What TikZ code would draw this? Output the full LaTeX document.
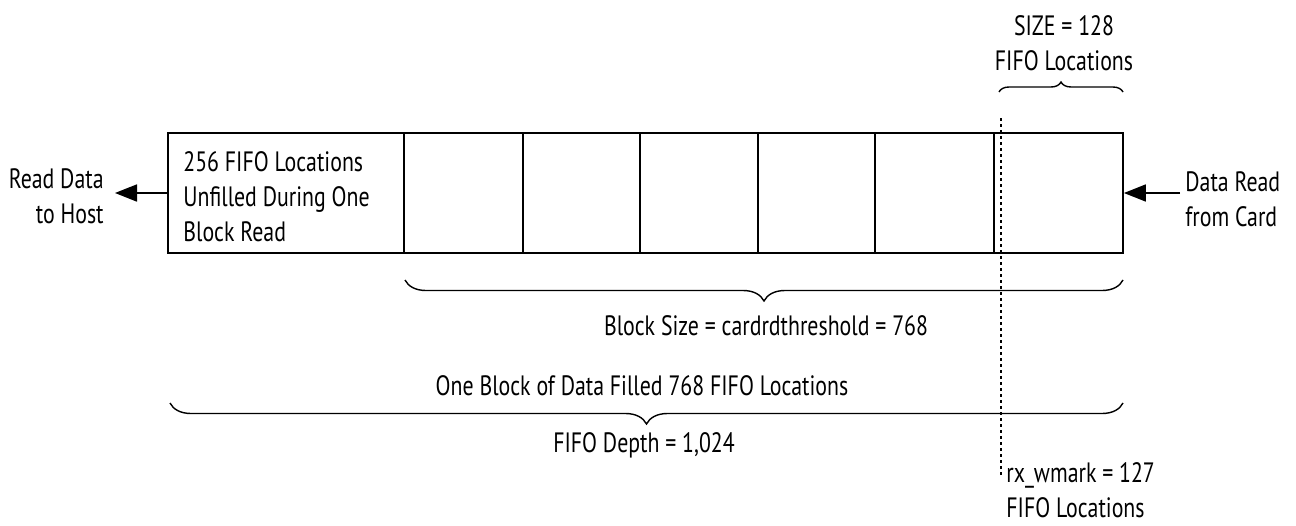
\documentclass[tikz,border=0pt]{standalone}
\usepackage{fontspec}
\setmainfont[FakeStretch=0.78]{PT Sans}
\usepackage{tikz}
\usetikzlibrary{arrows.meta,positioning,decorations.pathreplacing}

\begin{document}
\begin{tikzpicture}[x=0.5pt, y=-0.5pt,
    txt/.style={inner sep=0pt, font=\fontsize{14}{17.5}\selectfont},
    fifo/.style={rectangle, draw=black, line width=0.9pt, minimum width=477.5pt, minimum height=60pt, inner sep=0pt},
    flow/.style={-{Triangle[length=11pt, width=8.5pt]}, line width=0.9pt},
    bracebig/.style={decorate, decoration={brace, amplitude=10.5pt}, line width=0.7pt},
    bracesmall/.style={decorate, decoration={brace, amplitude=5pt}, line width=0.7pt},
    wmarkline/.style={line width=0.9pt, dash pattern=on 1.5pt off 1.5pt}
]

    \useasboundingbox (0,0) rectangle (1296,525);

    % the FIFO and its locations
    \node[fifo] (fifo) at (645.5,193) {};
    \foreach \x in {404,523,640,758,875,994}
        \draw[line width=0.9pt] (fifo.north -| \x,0) -- (fifo.south -| \x,0);

    \node[txt, anchor=west, align=left] (unfilled) at (183,197) {256 FIFO Locations\\Unfilled During One\\Block Read};

    \node[txt, anchor=east, align=right] (host) at (104,196) {Read Data\\to Host};
    \node[txt, anchor=west, align=left] (card) at (1185,199) {Data Read\\from Card};

    \draw[flow, shorten >=5.5pt] (fifo.west) -- (fifo.west -| host.east);
    \draw[flow, shorten <=2.5pt] (fifo.east -| card.west) -- (fifo.east);

    % watermark
    \coordinate (wtop) at (1001,118);
    \coordinate (wbot) at (1001,476);
    \draw[wmarkline] (wtop) -- (wbot);
    \node[txt, anchor=west, align=left] (wmark) at (1006,490) {rx\_wmark = 127\\FIFO Locations};

    % braces
    \draw[bracesmall] (999,92) -- (1123,92);
    \node[txt, align=center] (size) at (1064,43) {SIZE = 128\\FIFO Locations};

    \draw[bracebig] (1123,280) -- (405,280);
    \node[txt] (blocksize) at (766,326) {Block Size = cardrdthreshold = 768};

    \node[txt] (oneblock) at (642,386) {One Block of Data Filled 768 FIFO Locations};
    \draw[bracebig] (1123,403) -- (170,403);
    \node[txt] (depth) at (644,445) {FIFO Depth = 1,024};

\end{tikzpicture}
\end{document}
